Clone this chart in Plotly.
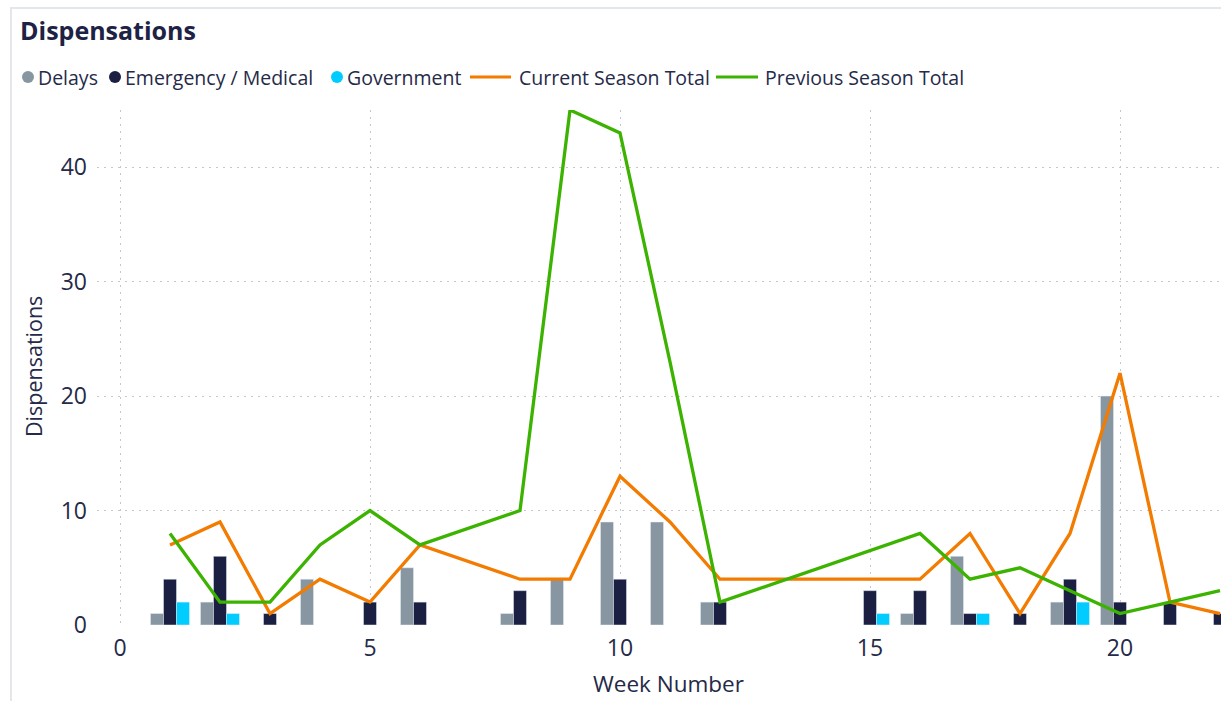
import plotly.graph_objects as go

# ---------------- data ----------------
weeks = list(range(1, 23))
delays = [1, 2, None, 4, None, 5, None, 1, 4, 9, 9, 2, None, None, None, 1, 6, None, 2, 20, None, None]
emergency = [4, 6, 1, None, 2, 2, None, 3, None, 4, None, 2, None, None, 3, 3, 1, 1, 4, 2, 2, 1]
government = [2, 1, None, None, None, None, None, None, None, None, None, None, None, None, 1, None, 1, None, 2, None, None, None]

current_weeks = [1, 2, 3, 4, 5, 6, 8, 9, 10, 11, 12, 15, 16, 17, 18, 19, 20, 21, 22]
current_total = [7, 9, 1, 4, 2, 7, 4, 4, 13, 9, 4, 4, 4, 8, 1, 8, 22, 2, 1]
previous_weeks = [1, 2, 3, 4, 5, 6, 8, 9, 10, 11, 12, 16, 17, 18, 19, 20, 21, 22]
previous_total = [8, 2, 2, 7, 10, 7, 10, 45, 43, 23, 2, 8, 4, 5, 3, 1, 2, 3]

x_ticks = [0, 5, 10, 15, 20]
y_ticks = [0, 10, 20, 30, 40]

series_names = ["Delays", "Emergency / Medical", "Government", "Current Season Total", "Previous Season Total"]

# ---------------- style ----------------
C_DELAYS = "#8796A1"
C_EMERG = "#1B1F41"
C_GOV = "#00CCFF"
C_CUR = "#F27B00"
C_PREV = "#3CB300"
TEXT = "#252A48"
GRID = "#C4C8CE"
FONT = "Open Sans"

W, H = 1221, 701
ML, MR, MT, MB = 97, 0, 110, 76
PW = W - ML - MR
PH = H - MT - MB


def px_x(px):
    return (px - ML) / PW


def px_y(py):
    return (H - MB - py) / PH


fig = go.Figure()
fig.add_trace(go.Bar(x=weeks, y=delays, name=series_names[0], marker_color=C_DELAYS, showlegend=False))
fig.add_trace(go.Bar(x=weeks, y=emergency, name=series_names[1], marker_color=C_EMERG, showlegend=False))
fig.add_trace(go.Bar(x=weeks, y=government, name=series_names[2], marker_color=C_GOV, showlegend=False))
fig.add_trace(go.Scatter(x=current_weeks, y=current_total, name=series_names[3], mode="lines",
                         line=dict(color=C_CUR, width=3.3), cliponaxis=False, showlegend=False))
fig.add_trace(go.Scatter(x=previous_weeks, y=previous_total, name=series_names[4], mode="lines",
                         line=dict(color=C_PREV, width=3.3), cliponaxis=False, showlegend=False))

fig.update_layout(
    width=W, height=H,
    margin=dict(l=ML, r=MR, t=MT, b=MB, autoexpand=False),
    paper_bgcolor="white", plot_bgcolor="white",
    barmode="group", bargap=0.22, bargroupgap=0,
    font=dict(family=FONT, color=TEXT),
    showlegend=False,
)
fig.update_xaxes(range=[-0.46, 22.02], tickvals=x_ticks, showgrid=True, gridcolor=GRID, griddash="2px,5px",
                 gridwidth=1, zeroline=False, showline=False, ticks="",
                 tickfont=dict(size=23, color=TEXT), ticklabelstandoff=7)
fig.update_yaxes(range=[0, 45], tickvals=y_ticks, showgrid=True, gridcolor=GRID, griddash="2px,5px",
                 gridwidth=1, zeroline=False, showline=False, ticks="",
                 tickfont=dict(size=23, color=TEXT), ticklabelstandoff=9)

annotations = []
# title
annotations.append(dict(text="<b>Dispensations</b>", xref="paper", yref="paper", x=px_x(18), y=px_y(30),
                        xanchor="left", yanchor="middle", showarrow=False,
                        font=dict(family=FONT, size=25, color="#1E2244")))
# axis titles
annotations.append(dict(text="Week Number", xref="paper", yref="paper", x=px_x(668), y=px_y(683),
                        xanchor="center", yanchor="middle", showarrow=False,
                        font=dict(family=FONT, size=22.5, color=TEXT)))
annotations.append(dict(text="Dispensations", xref="paper", yref="paper", x=px_x(33), y=px_y(367),
                        xanchor="center", yanchor="middle", showarrow=False, textangle=-90,
                        font=dict(family=FONT, size=21.5, color=TEXT)))

shapes = []
# visual border
shapes.append(dict(type="rect", xref="paper", yref="paper", x0=px_x(11), x1=px_x(1260), y0=px_y(740), y1=px_y(8),
                   line=dict(color="#E3E7EC", width=2), fillcolor="rgba(0,0,0,0)", layer="below"))

# legend (manual, to match spacing)
legend_kinds = ["dot", "dot", "dot", "line", "line"]
legend_colors = [C_DELAYS, C_EMERG, C_GOV, C_CUR, C_PREV]
legend_symbol_x = [(22, 34), (109, 121), (331, 343), (470, 511), (716, 758)]
legend_text_x = [36, 123, 345, 517, 763]
LEG_Y = 77
for name, kind, col, (sx0, sx1), tx in zip(series_names, legend_kinds, legend_colors, legend_symbol_x, legend_text_x):
    if kind == "dot":
        shapes.append(dict(type="circle", xref="paper", yref="paper", x0=px_x(sx0), x1=px_x(sx1),
                           y0=px_y(LEG_Y + 6), y1=px_y(LEG_Y - 6), fillcolor=col, line=dict(width=0)))
    else:
        shapes.append(dict(type="line", xref="paper", yref="paper", x0=px_x(sx0), x1=px_x(sx1),
                           y0=px_y(LEG_Y), y1=px_y(LEG_Y), line=dict(color=col, width=3)))
    annotations.append(dict(text=name, xref="paper", yref="paper", x=px_x(tx), y=px_y(LEG_Y),
                            xanchor="left", yanchor="middle", showarrow=False,
                            font=dict(family=FONT, size=19.5, color=TEXT)))

fig.update_layout(annotations=annotations, shapes=shapes)
fig.write_html("out.html", config={"displayModeBar": False},
               post_script="document.body.style.margin='0';document.body.style.overflow='hidden';")
